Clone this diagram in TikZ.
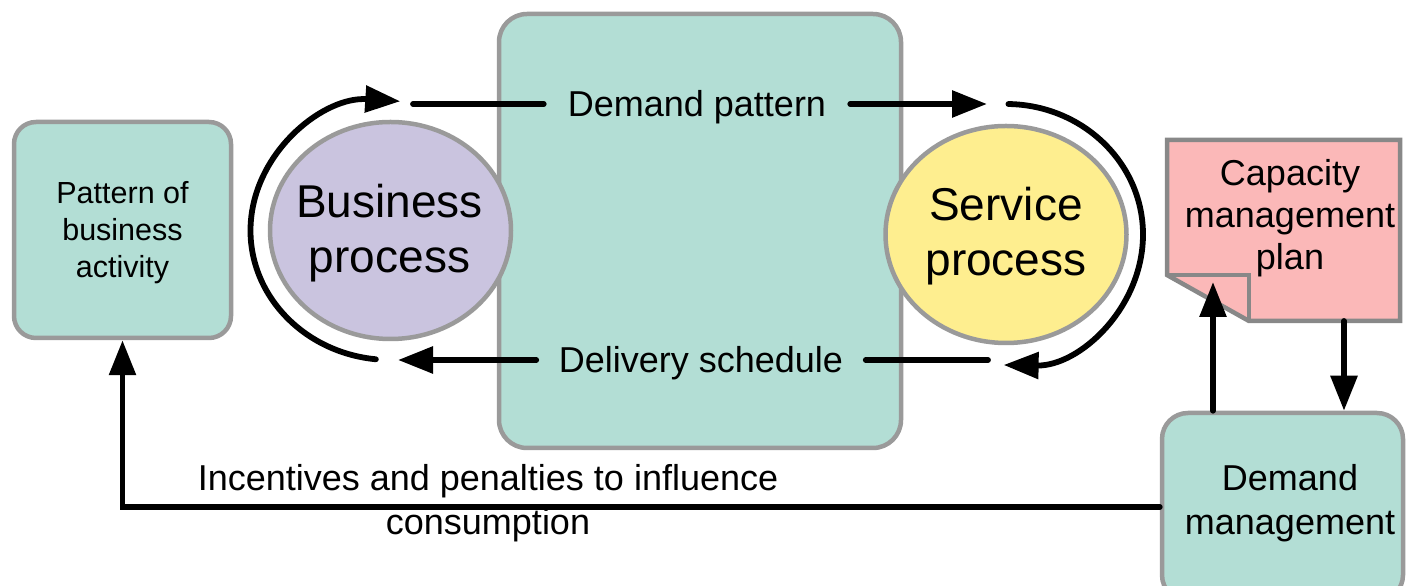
\documentclass[tikz,border=0pt]{standalone}
\usepackage{fontspec}
\setmainfont{Liberation Sans}
\usetikzlibrary{arrows.meta,shapes.geometric}
\definecolor{tealfill}{HTML}{B3DED5}
\definecolor{lavender}{HTML}{CAC4DF}
\definecolor{sunny}{HTML}{FEEE8F}
\definecolor{rosefill}{HTML}{FBB8B8}
\definecolor{edgegray}{HTML}{9A9A9A}
\definecolor{darkedge}{HTML}{888888}
\begin{document}
\begin{tikzpicture}[x=1pt,y=1pt,
  box/.style={draw=edgegray, line width=4.5pt, fill=tealfill, rounded corners=24pt, inner sep=0pt},
  proc/.style={ellipse, draw=edgegray, line width=4.5pt, minimum width=241pt, minimum height=217pt, inner sep=0pt},
  proctext/.style={align=center, font=\fontsize{46}{55}\selectfont},
  flow/.style={line width=5.8pt, line cap=round},
  arr/.style={flow, -{Triangle[length=35pt,width=26pt]}},
  lbl/.style={font=\fontsize{36}{44}\selectfont, align=center}
]
\useasboundingbox (0,0) rectangle (1406,586);
\clip (0,0) rectangle (1406,586);

% central exchange area
\node[box, rounded corners=28pt, minimum width=402pt, minimum height=434pt] (hub) at (700,355) {};

% the two processes
\node[proc, fill=lavender] (bp) at (390.5,355.5) {};
\node[proctext] (bptext) at (389.5,353) {Business\\process};
\node[proc, fill=sunny] (sp) at (1006,351.5) {};
\node[proctext] (sptext) at (1006,350) {Service\\process};

% left box
\node[box, rounded corners=22pt, minimum width=217pt, minimum height=216pt] (pba) at (122.5,356) {};
\node[align=center, font=\fontsize{30.5}{37}\selectfont] (pbatext) at (122.5,353) {Pattern of\\business\\activity};

% capacity management plan (document with folded corner)
\draw[draw=darkedge, line width=4.5pt, fill=rosefill, line join=miter]
  (1167,446) -- (1400,446) -- (1400,265) -- (1249,265) -- (1167,311) -- cycle;
\draw[draw=darkedge, line width=4.5pt, line join=miter] (1167,311) -- (1249,311) -- (1249,265);
\node[font=\fontsize{36}{42}\selectfont, align=center] (cap) at (1290,368) {Capacity\\management\\plan};
\coordinate (capbot) at (1344,265);
\coordinate (capfold) at (1213,304);

% demand management
\node[box, rounded corners=26pt, minimum width=241pt, minimum height=188pt] (dm) at (1282.5,79) {};
\node[lbl] (dmtext) at (1290,83) {Demand\\management};

% flow labels
\node[lbl, inner xsep=24pt] (dp) at (697,479) {Demand pattern};
\node[lbl, inner xsep=22.5pt] (ds) at (701,223) {Delivery schedule};
\node[lbl] (inc) at (488,83) {Incentives and penalties to influence\\consumption};

% flow ends
\coordinate (dpL) at (413,482);
\coordinate (dpR) at (987,482);
\coordinate (dsL) at (398,226);
\coordinate (dsR) at (988,226);

\draw[flow] (dpL) -- (dpL -| dp.west);
\draw[arr] (dpR -| dp.east) -- (dpR);
\draw[flow] (dsR) -- (dsR -| ds.east);
\draw[arr] (dsL -| ds.west) -- (dsL);

% circulating arcs round the processes
\path (bp.center) ++(264:140 and 129.5) coordinate (la0);
\draw[arr] (la0) arc[start angle=264, end angle=86, x radius=140, y radius=129.5];
\path (sp.center) ++(89:137 and 130.5) coordinate (ra0);
\draw[arr] (ra0) arc[start angle=89, end angle=-91, x radius=137, y radius=130.5];

% demand management links
\draw[arr] (dm.north -| capfold) -- (capfold);
\draw[arr] (capbot) -- (dm.north -| capbot);
\draw[arr] (dm.west) -| (pba.south);
\end{tikzpicture}
\end{document}
